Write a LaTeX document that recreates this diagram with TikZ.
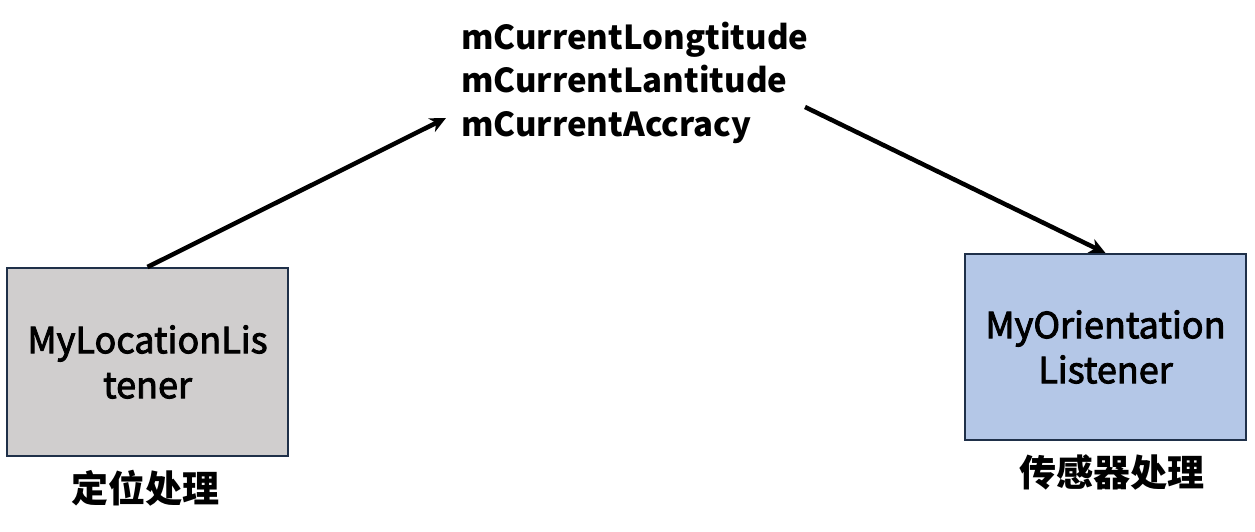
\documentclass[tikz,border=0pt]{standalone}
\usepackage{fontspec}
\setmainfont{Noto Sans CJK SC}
\newfontfamily\boxfont[FakeBold=2.5]{Noto Sans CJK SC}
\usetikzlibrary{arrows.meta}
\definecolor{boxgray}{HTML}{D0CECE}
\definecolor{boxblue}{HTML}{B4C7E7}
\definecolor{boxline}{HTML}{1F3049}
\tikzset{
  listener/.style={draw=boxline, line width=2pt, minimum width=281pt, minimum height=188pt,
    align=center, inner sep=0pt, font=\boxfont\fontsize{36}{45}\selectfont},
  caption/.style={font=\fontsize{37}{40}\selectfont\bfseries, inner sep=0pt},
  flow/.style={line width=4.5pt, -{Stealth[length=16pt,width=15pt,inset=5pt]}},
}
\begin{document}
\begin{tikzpicture}[x=1pt,y=-1pt]
\useasboundingbox (0,0) rectangle (1255,532);
\node[listener, fill=boxgray] (loc) at (147.5,362) {MyLocationLis\\tener};
\node[listener, fill=boxblue, minimum height=186pt] (ori) at (1105.5,347) {MyOrientation\\Listener};
\node[caption] (locl) at (145,488) {定位处理};
\node[caption] (oril) at (1112,472) {传感器处理};
\node[anchor=base west, align=left, inner sep=0pt, font=\fontsize{33}{44}\selectfont\bfseries] (vars) at (461,137)
  {mCurrentLongtitude\\mCurrentLantitude\\mCurrentAccracy};
\coordinate (in) at (446,118);
\coordinate (out) at (805,107);
\draw[flow] (loc.north) -- (in);
\draw[flow] (out) -- (ori.north);
\end{tikzpicture}
\end{document}
